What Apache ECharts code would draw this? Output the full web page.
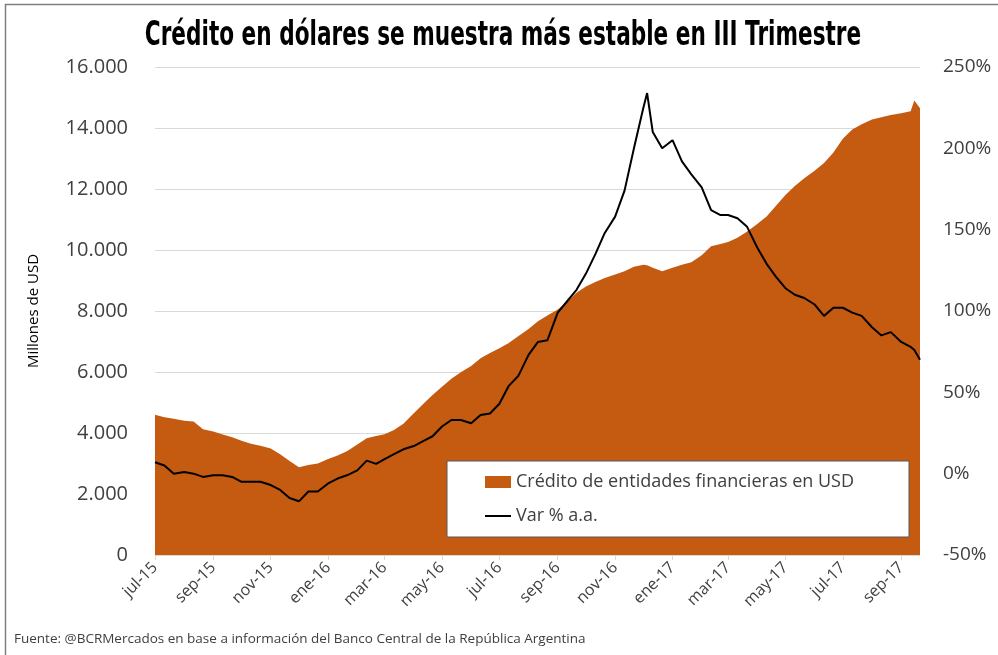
<!DOCTYPE html>
<html>
<head>
<meta charset="utf-8">
<script src="https://cdn.jsdelivr.net/npm/echarts@6/dist/echarts.min.js"></script>
<style>
  html, body { margin: 0; padding: 0; background: #fff; }
  #chart { width: 998px; height: 655px; }
</style>
</head>
<body>
<div id="chart"></div>
<script>
// ~~ Data (roughly every 10 days)

const dates = [
  '2015-07-01', '2015-07-11', '2015-07-21', '2015-08-01', '2015-08-11', '2015-08-21',
  '2015-09-01', '2015-09-11', '2015-09-21', '2015-10-01', '2015-10-11', '2015-10-21',
  '2015-11-01', '2015-11-11', '2015-11-21', '2015-12-01', '2015-12-11', '2015-12-21',
  '2016-01-01', '2016-01-11', '2016-01-21', '2016-02-01', '2016-02-11', '2016-02-21',
  '2016-03-01', '2016-03-11', '2016-03-21', '2016-04-01', '2016-04-11', '2016-04-21',
  '2016-05-01', '2016-05-11', '2016-05-21', '2016-06-01', '2016-06-11', '2016-06-21',
  '2016-07-01', '2016-07-11', '2016-07-21', '2016-08-01', '2016-08-11', '2016-08-21',
  '2016-09-01', '2016-09-11', '2016-09-21', '2016-10-01', '2016-10-11', '2016-10-21',
  '2016-11-01', '2016-11-11', '2016-11-21', '2016-12-01', '2016-12-05', '2016-12-11', '2016-12-21',
  '2017-01-01', '2017-01-11', '2017-01-21', '2017-02-01', '2017-02-11', '2017-02-21',
  '2017-03-01', '2017-03-11', '2017-03-21', '2017-04-01', '2017-04-11', '2017-04-21',
  '2017-05-01', '2017-05-11', '2017-05-21', '2017-06-01', '2017-06-11', '2017-06-21',
  '2017-07-01', '2017-07-11', '2017-07-21', '2017-08-01', '2017-08-11', '2017-08-21',
  '2017-09-01', '2017-09-11', '2017-09-15', '2017-09-21',
]

// Millones de USD
const credito = [
  4600, 4520, 4470, 4400, 4380, 4120,
  4050, 3950, 3860, 3750, 3650, 3580,
  3490, 3300, 3080, 2880, 2950, 3000,
  3150, 3260, 3400, 3620, 3830, 3900,
  3960, 4100, 4300, 4650, 4950, 5250,
  5520, 5780, 5990, 6200, 6450, 6620,
  6780, 6950, 7170, 7410, 7660, 7850,
  8050, 8300, 8600, 8800, 8950, 9080,
  9200, 9300, 9450, 9520, 9500, 9420, 9300,
  9420, 9520, 9600, 9830, 10120, 10200,
  10260, 10400, 10600, 10850, 11100, 11450,
  11800, 12100, 12350, 12600, 12850, 13200,
  13650, 13950, 14120, 14280, 14350, 14430,
  14480, 14550, 14900, 14650,
]

// Var % a.a.
const variacion = [
  7, 5, 0, 1, 0, -2,
  -1, -1, -2, -5, -5, -5,
  -7, -10, -15, -17, -11, -11,
  -6, -3, -1, 2, 8, 6,
  9, 12, 15, 17, 20, 23,
  29, 33, 33, 31, 36, 37,
  43, 54, 60, 73, 81, 82,
  99, 106, 113, 123, 135, 148,
  158, 174, 200, 225, 234, 210, 200,
  205, 192, 184, 176, 162, 159,
  159, 157, 152, 139, 129, 121,
  114, 110, 108, 104, 97, 102,
  102, 99, 97, 90, 85, 87,
  81, 78, 76, 70,
]

// tick labels every two months
const tickDates = [
  '2015-07-01', '2015-09-01', '2015-11-01', '2016-01-01', '2016-03-01', '2016-05-01', '2016-07-01',
  '2016-09-01', '2016-11-01', '2017-01-01', '2017-03-01', '2017-05-01', '2017-07-01', '2017-09-01',
]
const meses = ['ene', 'feb', 'mar', 'abr', 'may', 'jun', 'jul', 'ago', 'sep', 'oct', 'nov', 'dic']

const _ts = function (s) {
  const p = s.split('-').map(Number)
  return Date.UTC(p[0], p[1] - 1, p[2])
}

const tickValues = tickDates.map(_ts)
const FONT = '"Open Sans", "Noto Sans", sans-serif'

const option = {
  animation: false,
  backgroundColor: '#fff',
  textStyle: { fontFamily: FONT },
  grid: { left: 155, right: 78, top: 67, bottom: 100 },
  legend: {
    orient: 'vertical',
    left: 447,
    top: 461,
    padding: [12, 55, 12, 38],
    itemGap: 16,
    itemWidth: 26,
    itemHeight: 12,
    backgroundColor: '#fff',
    borderColor: '#595959',
    borderWidth: 1,
    textStyle: { fontSize: 18, color: '#404040', fontFamily: FONT },
    data: [
      { name: 'Crédito de entidades financieras en USD', icon: 'rect' },
      { name: 'Var % a.a.', icon: 'path://M0,5 L26,5 L26,7 L0,7 Z' },
    ],
  },
  xAxis: {
    type: 'value',
    min: _ts('2015-07-01'),
    max: _ts('2017-09-21'),
    splitLine: { show: false },
    axisLine: { lineStyle: { color: '#d9d9d9' } },
    axisTick: { show: true, length: 5, lineStyle: { color: '#d9d9d9' }, customValues: tickValues },
    axisLabel: {
      customValues: tickValues,
      rotate: 45,
      fontSize: 16,
      color: '#404040',
      margin: 10,
      formatter: (v) => {
        const d = new Date(v)
        return meses[d.getUTCMonth()] + '-' + String(d.getUTCFullYear()).slice(2)
      },
    },
  },
  yAxis: [
    {
      type: 'value',
      min: 0,
      max: 16000,
      interval: 2000,
      name: 'Millones de USD',
      nameLocation: 'middle',
      nameGap: 114,
      nameTextStyle: { fontSize: 15, color: '#000', fontFamily: FONT },
      axisLine: { show: false },
      axisTick: { show: false },
      splitLine: { lineStyle: { color: '#d9d9d9', width: 1 } },
      axisLabel: {
        fontSize: 20,
        color: '#404040',
        margin: 27,
        formatter: (v) => String(v).replace(/\B(?=(\d{3})+(?!\d))/g, '.'),
      },
    },
    {
      type: 'value',
      min: -50,
      max: 250,
      interval: 50,
      axisLine: { show: false },
      axisTick: { show: false },
      splitLine: { show: false },
      axisLabel: { fontSize: 19, color: '#404040', margin: 23, formatter: '{value}%' },
    },
  ],
  series: [
    {
      name: 'Crédito de entidades financieras en USD',
      type: 'line',
      showSymbol: false,
      color: '#c55a11',
      lineStyle: { width: 0 },
      areaStyle: { color: '#c55a11', opacity: 1 },
      data: dates.map((d, i) => [_ts(d), credito[i]]),
    },
    {
      name: 'Var % a.a.',
      type: 'line',
      yAxisIndex: 1,
      showSymbol: false,
      color: '#000',
      lineStyle: { color: '#000', width: 2 },
      data: dates.map((d, i) => [_ts(d), variacion[i]]),
    },
  ],
  graphic: [
    {
      type: 'rect',
      shape: { x: 5.5, y: 4.5, width: 1000, height: 700 },
      style: { fill: null, stroke: '#7f7f7f', lineWidth: 1.5 },
      silent: true,
    },
    {
      // condensed heavy title
      type: 'text',
      x: 503,
      y: 36,
      scaleX: 0.655,
      style: {
        text: 'Crédito en dólares se muestra más estable en III Trimestre',
        font: 'bold 33px "DejaVu Sans", sans-serif',
        fill: '#000',
        align: 'center',
        verticalAlign: 'middle',
      },
    },
    {
      type: 'text',
      left: 14,
      top: 632,
      style: {
        text: 'Fuente: @BCRMercados en base a información del Banco Central de la República Argentina',
        font: '13.5px "Open Sans", sans-serif',
        fill: '#404040',
      },
    },
  ],
}

const c = echarts.init(document.getElementById('chart'), null, { renderer: 'canvas' })
c.setOption(option)
</script>
</body>
</html>
